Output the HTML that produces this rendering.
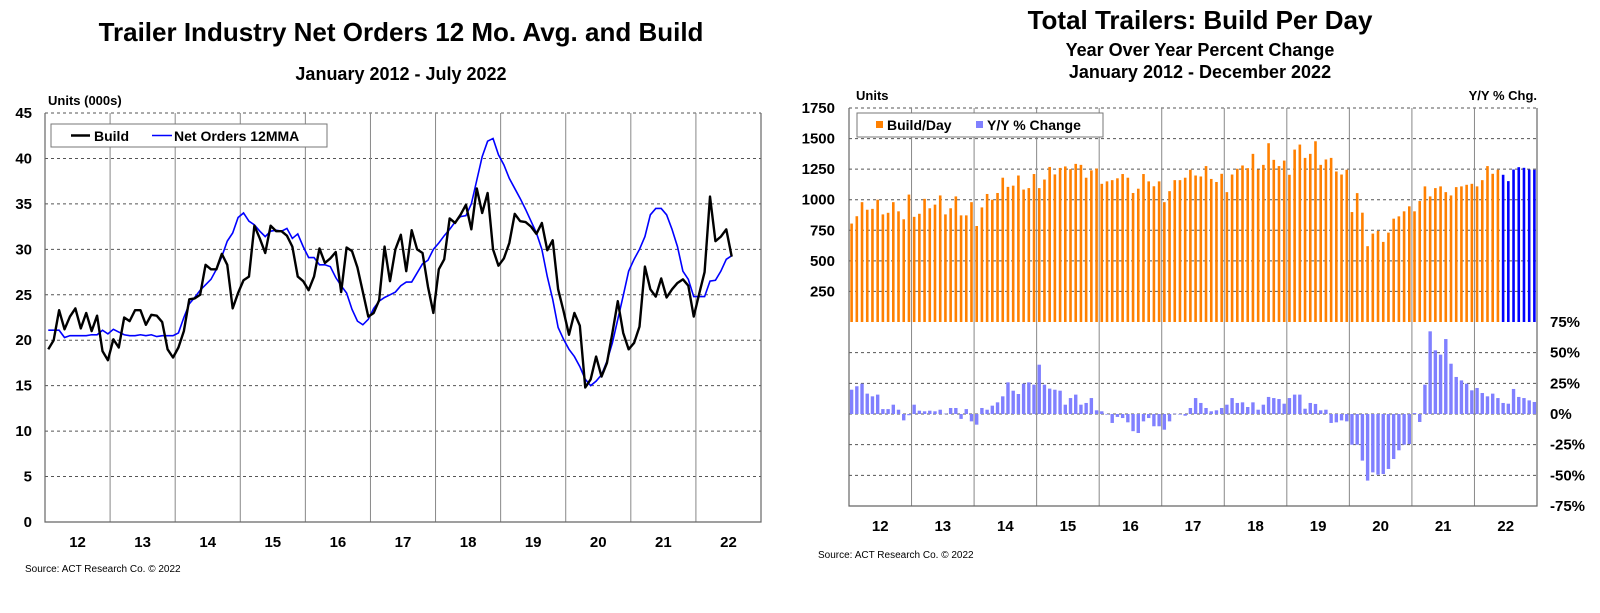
<!DOCTYPE html>
<html><head><meta charset="utf-8"><style>
html,body{margin:0;padding:0;background:#fff;}
svg{display:block;font-family:"Liberation Sans",Arial,sans-serif;}
text{font-weight:bold;fill:#000;}
</style></head><body>
<svg id="root" width="1600" height="613" viewBox="0 0 1600 613" xmlns="http://www.w3.org/2000/svg">
<g id="left">
<text x="401" y="41" font-size="26" text-anchor="middle">Trailer Industry Net Orders 12 Mo. Avg. and Build</text>
<text x="401" y="80" font-size="18" text-anchor="middle">January 2012 - July 2022</text>
<text x="48" y="105" font-size="13">Units (000s)</text>
<text x="25" y="572" font-size="10" style="font-weight:normal">Source: ACT Research Co. © 2022</text>
</g>
<g id="right">
<text x="1200" y="29" font-size="26" text-anchor="middle">Total Trailers: Build Per Day</text>
<text x="1200" y="56" font-size="18" text-anchor="middle">Year Over Year Percent Change</text>
<text x="1200" y="78" font-size="18" text-anchor="middle">January 2012 - December 2022</text>
<text x="856" y="100" font-size="13">Units</text>
<text x="1537" y="100" font-size="13" text-anchor="end">Y/Y % Chg.</text>
<text x="818" y="558" font-size="10" style="font-weight:normal">Source: ACT Research Co. © 2022</text>
</g>
</svg>
<script>
const yearLabels = ['12','13','14','15','16','17','18','19','20','21','22'];
const leftTicks = [0,5,10,15,20,25,30,35,40,45];
const buildData = [19,20,23.3,21.2,22.6,23.5,21.3,23,21,22.7,18.8,17.8,
20.1,19.2,22.5,22.1,23.3,23.3,21.7,22.8,22.7,22,19,18.1,
19.2,21,24.5,24.6,25,28.3,27.8,27.8,29.5,28.3,23.5,25.2,
26.6,27,32.6,31.2,29.6,32.6,32,32,31.5,30.3,27,26.5,
25.5,27,30.1,28.5,29,29.7,25.3,30.2,29.8,28,25.3,22.6,
23,24.4,30.3,26.5,30,31.6,27.6,32.1,30,29.6,25.9,23,
27.8,28.9,33.4,32.9,33.8,34.9,32.2,36.7,34,36.2,30,28.2,
29,30.7,33.9,33.1,33,32.5,31.7,32.9,29.9,31,25.6,23.2,
20.6,23,21.6,14.8,15.7,18.2,16,17.5,20.8,24.3,20.8,19,
19.7,21.5,28.1,25.6,24.8,26.8,24.7,25.6,26.3,26.7,26,22.6,
25.1,27.5,35.8,30.9,31.4,32.2,29.2];
const netOrdersData = [21.1,21.1,21.1,20.3,20.5,20.5,20.5,20.5,20.6,20.6,21.1,20.7,
21.2,20.9,20.6,20.5,20.5,20.6,20.5,20.6,20.4,20.5,20.5,20.5,
20.8,22.5,24,24.7,25.5,26.1,26.7,27.8,29.2,30.9,31.8,33.5,
34,33.1,32.7,32,31.4,32,32.1,32,32.3,31.2,31.7,30.3,
29.1,29.1,28.3,28.3,28.1,26.9,26,25.2,23.4,22.1,21.7,22.3,
23.5,24.3,24.7,25,25.3,26,26.4,26.4,27.4,28.4,28.8,30,
30.7,31.5,32.2,33,33.6,33.7,35,37.6,40.2,41.9,42.2,40.4,
39.3,37.8,36.7,35.6,34.4,33.1,31.8,30,27,24.5,21.4,20.1,
19,18.2,17.1,15.7,15,15.5,16.2,17.7,19.7,22.3,24.9,27.6,
28.9,30,31.4,33.8,34.5,34.5,33.8,32.2,30.3,27.6,26.7,24.8,
24.8,24.8,26.5,26.6,27.6,28.9,29.3];
const unitTicks = [250,500,750,1000,1250,1500,1750];
const pctTicks = [75,50,25,0,-25,-50,-75];
const buildPerDay = [805,865,980,918,925,1000,880,893,980,905,840,1042,
860,885,1007,930,960,1035,880,930,1027,872,872,980,
785,937,1047,1000,1055,1180,1105,1115,1198,1083,1095,1210,
1095,1165,1268,1207,1260,1272,1250,1293,1285,1180,1240,1255,
1130,1150,1160,1175,1210,1180,1055,1090,1210,1150,1110,1150,
980,1070,1160,1160,1180,1245,1198,1190,1275,1170,1145,1212,
1062,1206,1253,1280,1258,1375,1247,1285,1462,1326,1275,1320,
1204,1410,1451,1342,1375,1478,1285,1329,1342,1231,1206,1245,
899,1054,894,620,723,745,655,731,845,864,905,946,
905,989,1109,1027,1095,1109,1062,1035,1103,1109,1122,1130,
1109,1160,1275,1212,1245,1204,1152,1247,1266,1261,1247,1245];
const forecastStart = 125;
const yoyChange = [19.8,22.6,24.7,16.6,14.4,15.8,4,4,7.6,3.5,-5.2,-1,
7.6,2.7,2.2,2.7,2.2,3.5,0.3,4.9,4.9,-4,4,-6,
-8.7,4.9,3.5,6.8,9.5,14.4,25.8,19,16.3,24.7,25.8,23.9,
40.2,23.9,20.7,19.8,19,7.6,13,15.8,7.6,9,13,3,
2.2,-0.5,-7.3,-2.4,-3.3,-6.8,-14,-15.5,-6,-3.3,-10,-10,
-12.8,-6,0.3,-0.5,-1.4,4.9,13,9,4.9,2.2,3,4.9,
7.6,13,9,9.5,5.7,9.5,3.5,7.6,13.9,13,12.2,8.4,
13,15.8,15.8,4.3,9,8.2,3,3.5,-7.3,-6.8,-5.2,-6,
-25,-25,-38,-54.3,-47.6,-49.5,-48.9,-44.8,-36.7,-29.6,-25,-24.5,
0.8,-6.5,23.9,67.4,51.9,48.4,61.1,41,30.2,27.4,24.7,19.3,
21.2,17.1,14.4,16.6,13,9,8.4,20.4,13.9,13,11.1,9.8];

const NS='http://www.w3.org/2000/svg';
const svg=document.getElementById('root');
function mk(tag,attrs,parent,txt){const e=document.createElementNS(NS,tag);for(const k in attrs)e.setAttribute(k,attrs[k]);if(txt!==undefined)e.textContent=txt;(parent||svg).appendChild(e);return e;}

// LEFT CHART
const L={x0:45,x1:761,y0:113,y1:522};
const lx=i=>L.x0+(i+0.6)*(L.x1-L.x0)/132;
const ly=v=>L.y1-v*(L.y1-L.y0)/45;
const lg=document.getElementById('left');
leftTicks.forEach(t=>{
  if(t>0){const g=mk('line',{x1:L.x0,x2:L.x1,y1:ly(t),y2:ly(t),stroke:'#555','stroke-width':1,'stroke-dasharray':'3,3'},lg);
  
  }
  const tl=mk('text',{x:32,y:ly(t)+5,'font-size':15,'text-anchor':'end'},lg,String(t));
  
  
});
yearLabels.forEach((yl,k)=>{
  const xb=L.x0+k*12*(L.x1-L.x0)/132;
  if(k>0){const v=mk('line',{x1:xb,x2:xb,y1:L.y0,y2:L.y1,stroke:'#888','stroke-width':1},lg);
  
  }
  const t=mk('text',{x:xb+6*(L.x1-L.x0)/132,y:547,'font-size':15,'text-anchor':'middle'},lg,yl);
  
  
});
const lax=mk('path',{d:`M${L.x0} ${L.y0}V${L.y1}H${L.x1}V${L.y0}`,fill:'none',stroke:'#666','stroke-width':1.2},lg);


const nl=mk('polyline',{points:netOrdersData.map((v,i)=>lx(i)+','+ly(v)).join(' '),fill:'none',stroke:'#0000ff','stroke-width':1.6},lg);


const bl=mk('polyline',{points:buildData.map((v,i)=>lx(i)+','+ly(v)).join(' '),fill:'none',stroke:'#000','stroke-width':2.4,'stroke-linejoin':'round'},lg);


const lleg=mk('g',{},lg);


mk('rect',{x:51,y:124,width:276,height:23,fill:'#fff',stroke:'#777','stroke-width':1},lleg);
mk('line',{x1:71,x2:90,y1:135.5,y2:135.5,stroke:'#000','stroke-width':2.5},lleg);
const lt1=mk('text',{x:94,y:141,'font-size':14},lleg,'Build');


mk('line',{x1:152,x2:172,y1:135.5,y2:135.5,stroke:'#0000ff','stroke-width':1.6},lleg);
const lt2=mk('text',{x:174,y:141,'font-size':14},lleg,'Net Orders 12MMA');



// RIGHT CHART
const R={x0:849,x1:1537,y0:108,y1:506};
const step=(R.x1-R.x0)/132;
const rx=i=>R.x0+(i+0.5)*step;
const ryU=v=>322-v*(322-R.y0)/1750;
const ryP=p=>414-p*(414-322)/75;
const rg=document.getElementById('right');
unitTicks.forEach(t=>{
  const g=mk('line',{x1:R.x0,x2:R.x1,y1:ryU(t),y2:ryU(t),stroke:'#555','stroke-width':1,'stroke-dasharray':'3,3'},rg);
  
  
  const tl=mk('text',{x:835,y:ryU(t)+5,'font-size':15,'text-anchor':'end'},rg,String(t));
  
  
});
pctTicks.forEach(t=>{
  if(t<75){const g=mk('line',{x1:R.x0,x2:R.x1,y1:ryP(t),y2:ryP(t),stroke:'#555','stroke-width':1,'stroke-dasharray':'3,3'},rg);
  
  }
  const tl=mk('text',{x:1550,y:ryP(t)+5,'font-size':15},rg,t+'%');
  
  
});
yearLabels.forEach((yl,k)=>{
  const xb=R.x0+k*12*step;
  if(k>0){const v=mk('line',{x1:xb,x2:xb,y1:R.y0,y2:R.y1,stroke:'#888','stroke-width':1},rg);
  
  }
  const t=mk('text',{x:xb+6*step,y:531,'font-size':15,'text-anchor':'middle'},rg,yl);
  
  
});
buildPerDay.forEach((v,i)=>{
  const b=mk('rect',{x:rx(i)-1.3,y:ryU(v),width:2.6,height:ryU(0)-ryU(v),fill:i>=forecastStart?'#0000ff':'#ff8000'},rg);
  
  
});
yoyChange.forEach((p,i)=>{
  const y=Math.min(ryP(p),ryP(0)),h=Math.abs(ryP(p)-ryP(0));
  const b=mk('rect',{x:rx(i)-1.7,y:y,width:3.4,height:Math.max(h,0.5),fill:'#8080ff'},rg);
  
  
});
const rax=mk('path',{d:`M${R.x0} ${R.y0}V${R.y1}H${R.x1}V${R.y0}`,fill:'none',stroke:'#666','stroke-width':1.2},rg);


const rleg=mk('g',{},rg);


mk('rect',{x:857,y:113,width:246,height:24,fill:'#fff',stroke:'#777','stroke-width':1},rleg);
mk('rect',{x:876,y:121,width:7,height:7,fill:'#ff8000'},rleg);
const rt1=mk('text',{x:887,y:130,'font-size':14},rleg,'Build/Day');


mk('rect',{x:976,y:121,width:7,height:7,fill:'#8080ff'},rleg);
const rt2=mk('text',{x:987,y:130,'font-size':14},rleg,'Y/Y % Change');


</script>
</body></html>
